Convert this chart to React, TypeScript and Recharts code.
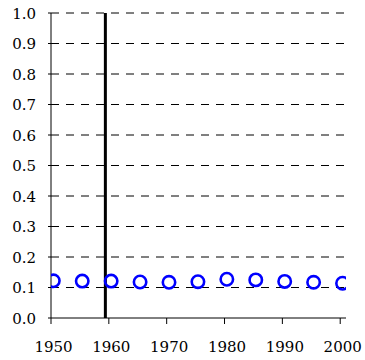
import React from 'react';
import { ScatterChart, Scatter, XAxis, YAxis, CartesianGrid, ReferenceLine } from 'recharts';

const years = [1950.4, 1955.4, 1960.4, 1965.4, 1970.4, 1975.4, 1980.4, 1985.4, 1990.4, 1995.4, 2000.4];
const values = [0.122, 0.121, 0.121, 0.118, 0.117, 0.119, 0.127, 0.125, 0.120, 0.117, 0.114];
const xTicks = [1950, 1955, 1960, 1965, 1970, 1975, 1980, 1985, 1990, 1995, 2000];
const yTicks = [0, 0.1, 0.2, 0.3, 0.4, 0.5, 0.6, 0.7, 0.8, 0.9, 1.0];
const markerYear = 1959.4;

const data = years.map((x, i) => ({ x, y: values[i] }));

const FONT = 'DejaVu Serif';
const FS = 15;

const XTick = (props: any) => {
  const { x, y, payload } = props;
  const v = payload.value as number;
  if (v % 10 !== 0) return null;
  return (
    <text x={x} y={y} dx={2.5} dy={13} textAnchor="middle" fontFamily={FONT} fontSize={FS} fill="#000">
      {String(v)}
    </text>
  );
};

const YTick = (props: any) => {
  const { x, y, payload } = props;
  return (
    <text x={x} y={y} dy={5.5} textAnchor="end" fontFamily={FONT} fontSize={FS} fill="#000">
      {(payload.value as number).toFixed(1)}
    </text>
  );
};

const Ring = (props: any) => {
  const { cx, cy } = props;
  if (cx == null || cy == null) return null;
  return <circle cx={cx} cy={cy} r={6.2} fill="none" stroke="#0000FF" strokeWidth={2.6} />;
};

export default function App() {
  return (
    <div style={{ position: 'absolute', left: 0, top: 0, background: '#fff' }}>
      <ScatterChart width={365} height={360} margin={{ top: 13, right: 19, bottom: 0, left: 0 }}>
        <CartesianGrid
          vertical={false}
          horizontalValues={yTicks.slice(1)}
          stroke="#000"
          strokeDasharray="8 7"
        />
        <XAxis
          type="number"
          dataKey="x"
          domain={[1950, 2001]}
          ticks={xTicks}
          height={42}
          tickSize={6}
          tickMargin={15}
          stroke="#000"
          tick={<XTick />}
          allowDataOverflow
        />
        <YAxis
          type="number"
          dataKey="y"
          domain={[0, 1]}
          ticks={yTicks}
          width={51}
          tickSize={3}
          tickMargin={12}
          stroke="#000"
          tick={<YTick />}
        />
        <ReferenceLine x={markerYear} stroke="#000" strokeWidth={3} />
        <Scatter data={data} shape={Ring} isAnimationActive={false} />
      </ScatterChart>
    </div>
  );
}
